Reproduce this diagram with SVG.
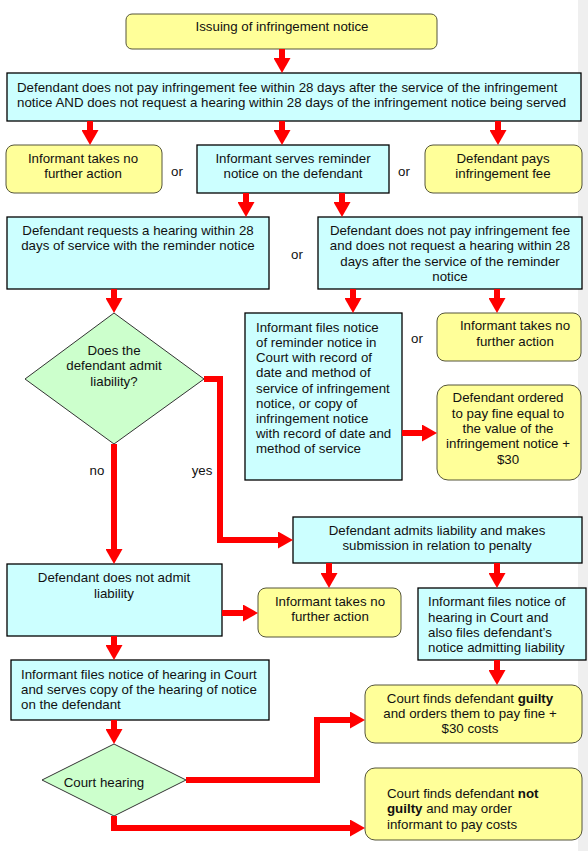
<svg xmlns="http://www.w3.org/2000/svg" width="588" height="851" viewBox="0 0 588 851">
<style>
text{font-family:"Liberation Sans",Arial,sans-serif;font-size:13.3px;fill:#111}
.m{text-anchor:middle}
.y{fill:#ffff99;stroke:#55553a;stroke-width:1}
.c{fill:#ccffff;stroke:#000;stroke-width:1.3}
.g{fill:#ccffcc;stroke:#333;stroke-width:1}
.conn path{fill:none;stroke:#ff0000;stroke-width:6;stroke-linejoin:miter;marker-end:url(#ah)}
.b{font-weight:bold}
</style>
<defs>
<marker id="ah" markerUnits="userSpaceOnUse" markerWidth="15" markerHeight="17" refX="1" refY="8.5" orient="auto">
<path d="M0,0 L15,8.5 L0,17 z" fill="#ff0000"/>
</marker>
</defs>
<rect x="0" y="0" width="588" height="851" fill="#ffffff"/>
<rect x="578" y="0" width="10" height="851" fill="#efefef"/>

<g id="n_issue"><rect class="y" x="126" y="14" width="311" height="35" rx="6"/><text class="m" x="282" y="31">Issuing of infringement notice</text></g>
<g id="n_notpay"><rect class="c" x="7" y="73" width="574" height="48"/><text x="17" y="92">Defendant does not pay infringement fee within 28 days after the service of the infringement</text><text x="17" y="107">notice AND does not request a hearing within 28 days of the infringement notice being served</text></g>
<g id="n_noaction1"><rect class="y" x="6" y="145" width="156" height="48" rx="8"/><text class="m" x="83" y="163">Informant takes no</text><text class="m" x="83" y="178">further action</text></g>
<g id="n_reminder"><rect class="c" x="197" y="145" width="192" height="48"/><text class="m" x="293" y="163">Informant serves reminder</text><text class="m" x="293" y="178">notice on the defendant</text></g>
<g id="n_pays"><rect class="y" x="425" y="145" width="157" height="48" rx="8"/><text class="m" x="503" y="163">Defendant pays</text><text class="m" x="503" y="178">infringement fee</text></g>
<g id="n_request"><rect class="c" x="7" y="217" width="262" height="72"/><text class="m" x="138" y="235">Defendant requests a hearing within 28</text><text class="m" x="138" y="250">days of service with the reminder notice</text></g>
<g id="n_notpay2"><rect class="c" x="318" y="217" width="264" height="72"/><text class="m" x="450" y="235">Defendant does not pay infringement fee</text><text class="m" x="450" y="250">and does not request a hearing within 28</text><text class="m" x="450" y="266">days after the service of the reminder</text><text class="m" x="450" y="281">notice</text></g>
<g id="n_admit"><polygon class="g" points="114,313 204,379 114,444 25,379"/><text class="m" x="114" y="355">Does the</text><text class="m" x="114" y="370">defendant admit</text><text class="m" x="114" y="386">liability?</text></g>
<g id="n_files1"><rect class="c" x="245" y="313" width="157" height="167"/>
<text x="256" y="332">Informant files notice</text><text x="256" y="347">of reminder notice in</text><text x="256" y="362">Court with record of</text><text x="256" y="377">date and method of</text><text x="256" y="393">service of infringement</text><text x="256" y="408">notice, or copy of</text><text x="256" y="423">infringement notice</text><text x="256" y="438">with record of date and</text><text x="256" y="453">method of service</text></g>
<g id="n_noaction2"><rect class="y" x="437" y="313" width="144" height="48" rx="8"/><text class="m" x="515" y="330">Informant takes no</text><text class="m" x="515" y="346">further action</text></g>
<g id="n_ordered"><rect class="y" x="437" y="385" width="144" height="95" rx="11"/><text class="m" x="508" y="402">Defendant ordered</text><text class="m" x="508" y="418">to pay fine equal to</text><text class="m" x="508" y="433">the value of the</text><text class="m" x="508" y="448">infringement notice +</text><text class="m" x="508" y="464">$30</text></g>
<g id="n_admits"><rect class="c" x="293" y="517" width="289" height="46"/><text class="m" x="437" y="535">Defendant admits liability and makes</text><text class="m" x="437" y="550">submission in relation to penalty</text></g>
<g id="n_notadmit"><rect class="c" x="7" y="564" width="215" height="72"/><text class="m" x="114" y="582">Defendant does not admit</text><text class="m" x="114" y="598">liability</text></g>
<g id="n_noaction3"><rect class="y" x="258" y="588" width="143" height="49" rx="8"/><text class="m" x="330" y="606">Informant takes no</text><text class="m" x="330" y="621">further action</text></g>
<g id="n_files2"><rect class="c" x="418" y="588" width="168" height="72"/><text x="428" y="606">Informant files notice of</text><text x="428" y="622">hearing in Court and</text><text x="428" y="637">also files defendant’s</text><text x="428" y="652">notice admitting liability</text></g>
<g id="n_files3"><rect class="c" x="11" y="660" width="258" height="60"/><text x="21" y="679">Informant files notice of hearing in Court</text><text x="21" y="694">and serves copy of the hearing of notice</text><text x="21" y="709">on the defendant</text></g>
<g id="n_court"><polygon class="g" points="114,744 186,780 114,816 42,780"/><text class="m" x="104" y="787">Court hearing</text></g>
<g id="n_guilty"><rect class="y" x="365" y="685" width="217" height="58" rx="10"/><text class="m" x="470" y="703">Court finds defendant <tspan class="b">guilty</tspan></text><text class="m" x="470" y="718">and orders them to pay fine +</text><text class="m" x="470" y="733">$30 costs</text></g>
<g id="n_notguilty"><rect class="y" x="365" y="768" width="217" height="72" rx="10"/><text x="387" y="798">Court finds defendant <tspan class="b">not</tspan></text><text x="387" y="813"><tspan class="b">guilty</tspan> and may order</text><text x="387" y="829">informant to pay costs</text></g>

<g id="labels">
<text class="m" x="177" y="176">or</text>
<text class="m" x="404" y="176">or</text>
<text class="m" x="297" y="259">or</text>
<text class="m" x="417" y="343">or</text>
<text class="m" x="97" y="475">no</text>
<text class="m" x="202" y="475">yes</text>
</g>

<g id="connectors" class="conn">
<path d="M282,49 V59"/>
<path d="M90,121 V131"/>
<path d="M282,121 V131"/>
<path d="M498,121 V131"/>
<path d="M246,193 V203"/>
<path d="M342,193 V203"/>
<path d="M114,289 V299"/>
<path d="M353,289 V299"/>
<path d="M497,289 V299"/>
<path d="M402,433 H423"/>
<path d="M114,444 V550"/>
<path d="M204,379 H220 V540 H279"/>
<path d="M329,563 V574"/>
<path d="M497,563 V574"/>
<path d="M222,613 H244"/>
<path d="M114,636 V646"/>
<path d="M114,720 V730"/>
<path d="M497,660 V671"/>
<path d="M186,780 H317 V720 H351"/>
<path d="M114,816 V828 H351"/>
</g>
</svg>
